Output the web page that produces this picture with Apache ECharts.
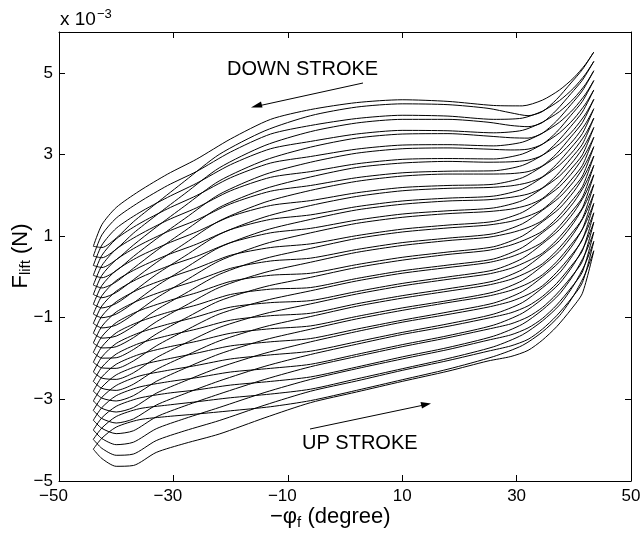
<!DOCTYPE html>
<html><head><meta charset="utf-8">
<script src="https://cdn.jsdelivr.net/npm/echarts@6/dist/echarts.min.js"></script>
<style>html,body{margin:0;padding:0;background:#fff}#c{width:642px;height:548px}</style>
</head><body><div id="c"></div>
<script>
// Tick labels
var xTicks = [-50, -30, -10, 10, 30, 50];
var yTicks = [-5, -3, -1, 1, 3, 5];

// 22 stroke cycles (loop 0 = top, loop 21 = bottom); values in units of 1e-3 N
var tipY = [5.51, 5.28, 5.05, 4.81, 4.58, 4.35, 4.12, 3.89, 3.66, 3.42, 3.19, 2.96, 2.73, 2.50, 2.26, 2.03, 1.80, 1.57, 1.34, 1.10, 0.87, 0.64];
var cornerY = [0.75, 0.51, 0.28, 0.04, -0.20, -0.43, -0.67, -0.91, -1.14, -1.38, -1.62, -1.85, -2.09, -2.33, -2.56, -2.80, -3.04, -3.27, -3.51, -3.75, -3.98, -4.22];

// Down stroke (upper branch), right to left: one column per angle, one value per loop
var upperX = [43.5, 42, 40, 37.5, 34.5, 31, 26, 18, 10, 2, -6, -13, -20, -26, -31, -36, -40, -42.5, -44];
var upperCols = [
  tipY,
  [5.20, 4.96, 4.71, 4.47, 4.23, 3.98, 3.74, 3.49, 3.25, 3.01, 2.76, 2.52, 2.27, 2.03, 1.79, 1.54, 1.30, 1.06, 0.81, 0.57, 0.32, 0.08],
  [4.88, 4.63, 4.37, 4.12, 3.87, 3.61, 3.36, 3.10, 2.85, 2.60, 2.34, 2.09, 1.83, 1.58, 1.33, 1.07, 0.82, 0.57, 0.31, 0.06, -0.20, -0.45],
  [4.58, 4.32, 4.05, 3.79, 3.53, 3.26, 3.00, 2.74, 2.47, 2.21, 1.95, 1.68, 1.42, 1.16, 0.89, 0.63, 0.37, 0.10, -0.16, -0.42, -0.69, -0.95],
  [4.33, 4.06, 3.79, 3.52, 3.25, 2.98, 2.71, 2.44, 2.17, 1.90, 1.63, 1.35, 1.08, 0.81, 0.54, 0.27, 0.00, -0.27, -0.54, -0.81, -1.08, -1.35],
  [4.19, 3.89, 3.59, 3.30, 3.01, 2.73, 2.43, 2.15, 1.87, 1.58, 1.30, 1.00, 0.72, 0.45, 0.18, -0.09, -0.36, -0.63, -0.89, -1.16, -1.42, -1.68],
  [4.20, 3.86, 3.53, 3.21, 2.89, 2.60, 2.27, 1.98, 1.69, 1.36, 1.06, 0.74, 0.44, 0.17, -0.10, -0.37, -0.64, -0.91, -1.18, -1.45, -1.71, -1.95],
  [4.30, 3.94, 3.58, 3.24, 2.90, 2.59, 2.24, 1.93, 1.62, 1.27, 0.95, 0.61, 0.29, 0.00, -0.29, -0.58, -0.86, -1.15, -1.44, -1.73, -2.00, -2.26],
  [4.34, 3.96, 3.59, 3.23, 2.88, 2.55, 2.19, 1.86, 1.54, 1.17, 0.84, 0.48, 0.15, -0.16, -0.46, -0.76, -1.06, -1.36, -1.66, -1.96, -2.25, -2.52],
  [4.27, 3.88, 3.50, 3.13, 2.77, 2.43, 2.06, 1.72, 1.39, 1.01, 0.67, 0.30, -0.04, -0.36, -0.66, -0.97, -1.28, -1.59, -1.90, -2.21, -2.50, -2.78],
  [4.10, 3.71, 3.32, 2.95, 2.58, 2.24, 1.87, 1.52, 1.19, 0.81, 0.46, 0.09, -0.26, -0.58, -0.89, -1.20, -1.51, -1.82, -2.14, -2.45, -2.75, -3.03],
  [3.86, 3.50, 3.14, 2.79, 2.44, 2.10, 1.75, 1.41, 1.08, 0.72, 0.39, 0.04, -0.30, -0.63, -0.95, -1.27, -1.59, -1.91, -2.24, -2.56, -2.87, -3.18],
  [3.38, 3.06, 2.75, 2.43, 2.11, 1.79, 1.48, 1.16, 0.84, 0.53, 0.21, -0.11, -0.43, -0.74, -1.06, -1.38, -1.69, -2.01, -2.33, -2.65, -2.96, -3.28],
  [2.88, 2.58, 2.29, 1.99, 1.69, 1.39, 1.10, 0.80, 0.50, 0.21, -0.09, -0.39, -0.69, -0.98, -1.28, -1.58, -1.87, -2.17, -2.47, -2.77, -3.06, -3.36],
  [2.52, 2.24, 1.95, 1.67, 1.39, 1.11, 0.82, 0.54, 0.26, -0.03, -0.31, -0.59, -0.87, -1.16, -1.44, -1.72, -2.01, -2.29, -2.57, -2.85, -3.14, -3.42],
  [2.10, 1.83, 1.57, 1.30, 1.03, 0.77, 0.50, 0.23, -0.03, -0.30, -0.57, -0.83, -1.10, -1.37, -1.63, -1.90, -2.17, -2.43, -2.70, -2.97, -3.23, -3.50],
  [1.70, 1.44, 1.19, 0.93, 0.68, 0.42, 0.16, -0.09, -0.35, -0.61, -0.86, -1.12, -1.37, -1.63, -1.89, -2.14, -2.40, -2.66, -2.91, -3.17, -3.42, -3.68],
  [1.28, 1.03, 0.78, 0.53, 0.28, 0.04, -0.21, -0.46, -0.71, -0.96, -1.21, -1.46, -1.71, -1.96, -2.21, -2.45, -2.70, -2.95, -3.20, -3.45, -3.70, -3.95],
  cornerY
];

// Up stroke (lower branch), left to right
var lowerX = [-44, -42.5, -40, -37, -33, -28, -22, -14, -6, 2, 10, 18, 25, 29, 32, 34.5, 37, 39.5, 41.5, 43.5];
var lowerCols = [
  cornerY,
  [0.72, 0.47, 0.23, -0.02, -0.27, -0.51, -0.76, -1.00, -1.25, -1.50, -1.74, -1.99, -2.23, -2.48, -2.73, -2.97, -3.22, -3.47, -3.71, -3.96, -4.20, -4.45],
  [0.95, 0.68, 0.42, 0.15, -0.12, -0.38, -0.65, -0.91, -1.18, -1.45, -1.71, -1.98, -2.24, -2.51, -2.78, -3.04, -3.31, -3.58, -3.84, -4.11, -4.37, -4.64],
  [1.35, 1.07, 0.78, 0.50, 0.21, -0.07, -0.36, -0.64, -0.92, -1.21, -1.49, -1.78, -2.06, -2.35, -2.63, -2.91, -3.20, -3.48, -3.77, -4.05, -4.34, -4.62],
  [1.80, 1.51, 1.22, 0.93, 0.64, 0.35, 0.06, -0.23, -0.52, -0.81, -1.10, -1.40, -1.69, -1.98, -2.27, -2.56, -2.85, -3.14, -3.43, -3.72, -4.01, -4.30],
  [2.35, 2.04, 1.74, 1.43, 1.13, 0.82, 0.51, 0.21, -0.10, -0.41, -0.71, -1.02, -1.32, -1.63, -1.94, -2.24, -2.55, -2.86, -3.16, -3.47, -3.77, -4.08],
  [3.00, 2.67, 2.35, 2.02, 1.70, 1.37, 1.04, 0.72, 0.39, 0.06, -0.26, -0.59, -0.91, -1.24, -1.57, -1.89, -2.22, -2.55, -2.87, -3.20, -3.52, -3.85],
  [3.58, 3.22, 2.86, 2.51, 2.16, 1.83, 1.47, 1.14, 0.81, 0.45, 0.11, -0.24, -0.58, -0.90, -1.22, -1.54, -1.87, -2.19, -2.51, -2.83, -3.14, -3.45],
  [3.95, 3.56, 3.18, 2.81, 2.45, 2.12, 1.75, 1.41, 1.08, 0.70, 0.36, -0.01, -0.34, -0.66, -0.97, -1.28, -1.59, -1.90, -2.20, -2.51, -2.80, -3.08],
  [4.16, 3.77, 3.40, 3.03, 2.68, 2.34, 1.97, 1.64, 1.31, 0.94, 0.60, 0.23, -0.10, -0.42, -0.72, -1.03, -1.34, -1.65, -1.95, -2.25, -2.55, -2.82],
  [4.24, 3.86, 3.50, 3.14, 2.79, 2.47, 2.11, 1.78, 1.46, 1.10, 0.77, 0.41, 0.09, -0.22, -0.52, -0.82, -1.11, -1.41, -1.71, -2.01, -2.29, -2.56],
  [4.22, 3.86, 3.51, 3.16, 2.83, 2.52, 2.17, 1.86, 1.55, 1.20, 0.89, 0.55, 0.23, -0.06, -0.35, -0.63, -0.92, -1.21, -1.49, -1.78, -2.05, -2.31],
  [4.13, 3.79, 3.45, 3.13, 2.81, 2.52, 2.19, 1.89, 1.60, 1.27, 0.97, 0.65, 0.35, 0.07, -0.20, -0.47, -0.74, -1.01, -1.28, -1.55, -1.82, -2.06],
  [4.02, 3.71, 3.41, 3.11, 2.82, 2.53, 2.23, 1.95, 1.66, 1.36, 1.08, 0.78, 0.49, 0.21, -0.06, -0.33, -0.60, -0.88, -1.15, -1.42, -1.69, -1.95],
  [3.95, 3.68, 3.40, 3.13, 2.86, 2.58, 2.31, 2.03, 1.76, 1.49, 1.21, 0.94, 0.66, 0.39, 0.12, -0.16, -0.43, -0.71, -0.98, -1.25, -1.53, -1.80],
  [4.05, 3.78, 3.52, 3.25, 2.98, 2.72, 2.45, 2.18, 1.92, 1.65, 1.38, 1.12, 0.85, 0.58, 0.32, 0.05, -0.22, -0.48, -0.75, -1.02, -1.28, -1.55],
  [4.35, 4.09, 3.82, 3.55, 3.29, 3.02, 2.76, 2.49, 2.23, 1.96, 1.70, 1.43, 1.17, 0.90, 0.64, 0.37, 0.11, -0.16, -0.42, -0.69, -0.95, -1.22],
  [4.75, 4.49, 4.22, 3.96, 3.69, 3.43, 3.16, 2.90, 2.64, 2.37, 2.11, 1.84, 1.58, 1.31, 1.05, 0.79, 0.52, 0.26, -0.01, -0.27, -0.54, -0.80],
  [5.08, 4.82, 4.56, 4.30, 4.04, 3.78, 3.51, 3.25, 2.99, 2.73, 2.47, 2.21, 1.95, 1.69, 1.43, 1.17, 0.91, 0.64, 0.38, 0.12, -0.14, -0.40],
  tipY
];

var series = [];
function branch(xs, cols, k) {
  return { type: 'line', data: xs.map(function (x, i) { return [x, cols[i][k]]; }),
    showSymbol: false, silent: true, smooth: 0.25,
    lineStyle: { color: '#000', width: 1 }, itemStyle: { color: '#000' } };
}
for (var k = 0; k < tipY.length; k++) {
  series.push(branch(upperX, upperCols, k));
  series.push(branch(lowerX, lowerCols, k));
}

var font = 'Liberation Sans, Arial, sans-serif';
var axLine = { show: true, onZero: false, lineStyle: { color: '#000', width: 1 } };
function fmtY(v) { return v < 0 ? '\u2212' + Math.abs(v) : String(v); }
function fmtX(v) { return v < 0 ? '\u2212' + Math.abs(v) + '{p| }' : String(v); }
function tick(vals) { return { inside: true, length: 6, lineStyle: { color: '#000' }, customValues: vals }; }

var chart = echarts.init(document.getElementById('c'), null, { renderer: 'canvas' });
chart.setOption({
  animation: false,
  grid: { left: 59, right: 11, top: 32, bottom: 67, containLabel: false, outerBoundsMode: 'none' },
  xAxis: [
    { type: 'value', min: -50, max: 50, position: 'bottom', splitLine: { show: false }, axisLine: axLine,
      axisTick: tick(xTicks),
      axisLabel: { customValues: xTicks, formatter: fmtX, color: '#000', fontSize: 17, fontFamily: font, margin: 7,
        rich: { p: { width: 11, fontSize: 17 } } } },
    { type: 'value', min: -50, max: 50, position: 'top', splitLine: { show: false }, axisLine: axLine,
      axisTick: tick(xTicks), axisLabel: { show: false } }
  ],
  yAxis: [
    { type: 'value', min: -5, max: 6, position: 'left', splitLine: { show: false }, axisLine: axLine,
      axisTick: tick(yTicks),
      axisLabel: { customValues: yTicks, formatter: fmtY, color: '#000', fontSize: 17, fontFamily: font, margin: 6 } },
    { type: 'value', min: -5, max: 6, position: 'right', splitLine: { show: false }, axisLine: axLine,
      axisTick: tick(yTicks), axisLabel: { show: false } }
  ],
  graphic: [
    { type: 'text', x: 21, y: 256, rotation: Math.PI / 2,
      style: { text: 'F{s|lift} (N)', fill: '#000', font: '22px ' + font, align: 'center', verticalAlign: 'middle',
        rich: { s: { fontSize: 15, fontFamily: font, fill: '#000', verticalAlign: 'bottom', padding: [10, 0, 0, 0] } } } },
    { type: 'text', left: 60, top: 8, style: { text: 'x 10{s|\u22123}', fill: '#000', font: '19px ' + font,
      rich: { s: { fontSize: 13, fontFamily: font, fill: '#000', verticalAlign: 'top', padding: [0, 0, 11, 1] } } } },
    { type: 'text', left: 270, top: 506, style: { text: '\u2212\u03c6{s|f} (degree)', fill: '#000', font: '22px ' + font,
      rich: { s: { fontSize: 15, fontFamily: font, fill: '#000', padding: [12, 0, 0, 0] } } } },
    { type: 'text', style: { x: 227, y: 69, text: 'DOWN STROKE', fill: '#000', font: '20px ' + font, verticalAlign: 'middle' } },
    { type: 'text', style: { x: 302, y: 443, text: 'UP STROKE', fill: '#000', font: '20px ' + font, verticalAlign: 'middle' } },
    { type: 'line', shape: { x1: 363, y1: 83, x2: 258, y2: 106 }, style: { stroke: '#000', lineWidth: 1 } },
    { type: 'polygon', shape: { points: [[251, 107.5], [261, 101.5], [262.5, 107.5]] }, style: { fill: '#000' } },
    { type: 'line', shape: { x1: 310, y1: 429, x2: 424, y2: 405 }, style: { stroke: '#000', lineWidth: 1 } },
    { type: 'polygon', shape: { points: [[431, 403.5], [420.5, 402], [422, 408.5]] }, style: { fill: '#000' } }
  ],
  series: series
});
</script></body></html>
